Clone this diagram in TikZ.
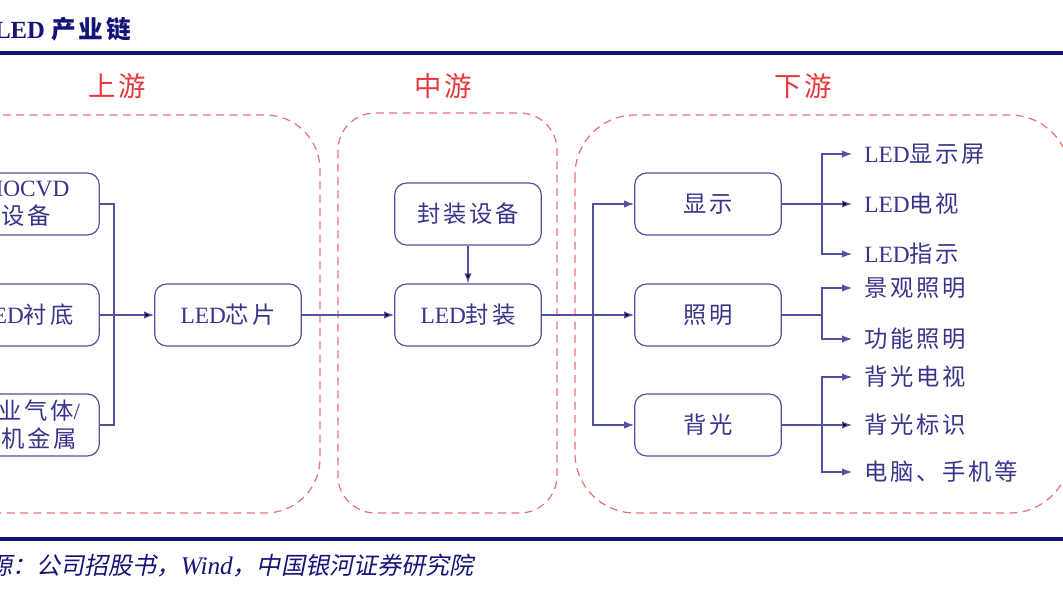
\documentclass[tikz,border=0pt]{standalone}
\usepackage{fontspec}
\setmainfont{Liberation Serif}
\newfontfamily\cjk{Noto Sans CJK SC}[Scale=1.0,LetterSpace=12]
\newfontfamily\cjkit{Noto Sans CJK SC}[Scale=0.95,FakeSlant=0.2]
\usetikzlibrary{arrows.meta}
\definecolor{navy}{HTML}{141478}
\definecolor{boxline}{HTML}{5250A0}
\definecolor{boxtext}{HTML}{37348A}
\definecolor{zonered}{HTML}{E8707A}
\definecolor{stagered}{HTML}{E8383F}

\begin{document}
\begin{tikzpicture}[x=0.75pt,y=-0.75pt,
  >={Latex[length=7.5pt,width=5.5pt]},
  box/.style={draw=boxline, line width=0.9pt, rounded corners=9pt,
    minimum width=110pt, minimum height=46.5pt, text=boxtext, align=center,
    font=\fontsize{17.5pt}{21pt}\selectfont},
  leaf/.style={anchor=west, inner xsep=9pt, inner ysep=0pt, text=boxtext,
    font=\fontsize{17.5pt}{21pt}\selectfont},
  link/.style={draw=boxline, line width=0.9pt},
  zone/.style={draw=zonered, line width=0.9pt, dash pattern=on 6pt off 4pt},
  stage/.style={text=stagered, font=\fontsize{20.5pt}{24pt}\selectfont\cjk},
  rule/.style={draw=navy, line width=2.4pt}]
  \useasboundingbox (0,0) rectangle (1063,598);
  \clip (0,0) rectangle (1063,598);

  \node[anchor=west, inner sep=0pt, text=navy, font=\fontsize{18.5pt}{22pt}\selectfont\bfseries] (title) at (-6,29) {LED {\cjk 产业链}};
  \draw[rule] (-5,53) -- (1070,53);
  \draw[rule] (-5,539) -- (1070,539);
  \node[anchor=west, inner sep=0pt, text=navy, font=\fontsize{19pt}{22pt}\selectfont] (src) at (-12,566) {{\cjkit 源：公司招股书，}{\itshape Wind}{\cjkit ，中国银河证券研究院}};

  \node[stage] (upst) at (117,86) {上游};
  \node[stage] (midst) at (443,86) {中游};
  \node[stage] (downst) at (803,86) {下游};
  \draw[zone, rounded corners=41pt] (-60,115) rectangle (320,513);
  \draw[zone, rounded corners=28pt] (338,113) rectangle (557,513);
  \draw[zone, rounded corners=45pt] (575,115) rectangle (1070,513);

  \node[box] (mocvd) at (26,204) {MOCVD\\{\cjk 设备}};
  \node[box] (sub) at (26,315) {LED{\cjk 衬底}};
  \node[box] (gas) at (26,425) {{\cjk 工业气体}/\\{\cjk 有机金属}};
  \node[box] (chip) at (228,315) {LED{\cjk 芯片}};
  \node[box] (pkgeq) at (468,214) {{\cjk 封装设备}};
  \node[box] (pkg) at (468,315) {LED{\cjk 封装}};
  \node[box] (disp) at (708,204) {{\cjk 显示}};
  \node[box] (light) at (708,315) {{\cjk 照明}};
  \node[box] (back) at (708,425) {{\cjk 背光}};

  \node[leaf] (d1) at (852,154) {LED{\cjk 显示屏}};
  \node[leaf] (d2) at (852,204) {LED{\cjk 电视}};
  \node[leaf] (d3) at (852,254) {LED{\cjk 指示}};
  \node[leaf] (l1) at (852,288) {{\cjk 景观照明}};
  \node[leaf] (l2) at (852,339) {{\cjk 功能照明}};
  \node[leaf] (b1) at (852,377) {{\cjk 背光电视}};
  \node[leaf] (b2) at (852,425) {{\cjk 背光标识}};
  \node[leaf] (b3) at (852,472) {{\cjk 电脑、手机等}};

  \coordinate (jl) at (114,315);
  \coordinate (jr) at (593,315);
  \coordinate (jd) at (822,204);
  \coordinate (jli) at (822,315);
  \coordinate (jb) at (822,425);

  \draw[link] (mocvd.east) -| (jl);
  \draw[link] (gas.east) -| (jl);
  \path[link,->] (sub) edge (chip)
    (chip) edge (pkg)
    (pkgeq) edge (pkg)
    (pkg) edge (light);
  \draw[link,->] (jr) |- (disp);
  \draw[link,->] (jr) |- (back);

  \path[link,->] (disp) edge (d2.west);
  \draw[link,->] (jd) |- (d1.west);
  \draw[link,->] (jd) |- (d3.west);
  \draw[link] (light) -- (jli);
  \draw[link,->] (jli) |- (l1.west);
  \draw[link,->] (jli) |- (l2.west);
  \path[link,->] (back) edge (b2.west);
  \draw[link,->] (jb) |- (b1.west);
  \draw[link,->] (jb) |- (b3.west);
\end{tikzpicture}
\end{document}
